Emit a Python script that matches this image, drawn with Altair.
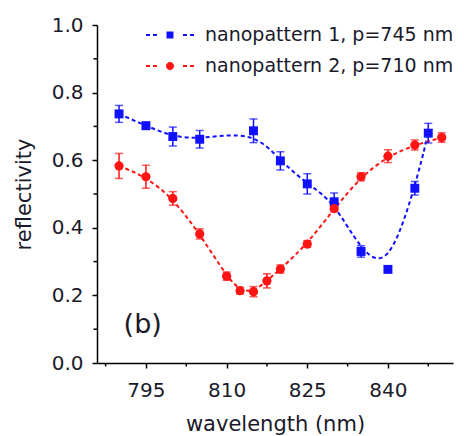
import altair as alt
import pandas as pd

S1 = "nanopattern 1, p=745 nm"
S2 = "nanopattern 2, p=710 nm"
BLUE = "#1010ff"
RED = "#ff1414"
FONT = "DejaVu Sans"
INK = "#1a1a2a"

# series 1 (blue squares)
wl1 = [790, 795, 800, 805, 815, 820, 825, 830, 835, 840, 845, 847.5]
r1 = [0.737, 0.702, 0.670, 0.662, 0.687, 0.598, 0.530, 0.477, 0.330, 0.277, 0.517, 0.680]
e1 = [0.025, 0.010, 0.028, 0.026, 0.035, 0.027, 0.030, 0.026, 0.017, 0.008, 0.020, 0.029]

# series 2 (red circles)
wl2 = [790, 795, 800, 805, 810, 812.5, 815, 817.5, 820, 825, 830, 835, 840, 845, 850]
r2 = [0.583, 0.551, 0.487, 0.382, 0.257, 0.214, 0.211, 0.243, 0.278, 0.352, 0.457, 0.551, 0.612, 0.645, 0.667]
e2 = [0.037, 0.034, 0.020, 0.015, 0.012, 0.010, 0.015, 0.021, 0.012, 0.010, 0.010, 0.012, 0.019, 0.015, 0.014]

x_major = [795, 810, 825, 840]
x_minor = [787.5, 802.5, 817.5, 832.5, 847.5]
y_major = [0.0, 0.2, 0.4, 0.6, 0.8, 1.0]
y_minor = [0.1, 0.3, 0.5, 0.7, 0.9]

df = pd.concat([
    pd.DataFrame({"series": S1, "wl": wl1, "r": r1, "e": e1}),
    pd.DataFrame({"series": S2, "wl": wl2, "r": r2, "e": e2}),
], ignore_index=True)
df["lo"] = df["r"] - df["e"]
df["hi"] = df["r"] + df["e"]

xs = alt.Scale(domain=[785.9, 852.1], nice=False, zero=False)
ys = alt.Scale(domain=[0, 1], nice=False)
x_axis = alt.Axis(values=x_major, title="wavelength (nm)", labelPadding=12, titlePadding=13)
y_axis = alt.Axis(values=y_major, format=".1f", title="reflectivity", labelPadding=9, titlePadding=17)

X = alt.X("wl:Q", scale=xs, axis=x_axis)
Y = alt.Y("r:Q", scale=ys, axis=y_axis)
cscale = alt.Scale(domain=[S1, S2], range=[BLUE, RED])
col = alt.Color("series:N", scale=cscale, legend=None)

base = alt.Chart(df)

lines = base.mark_line(strokeDash=[4, 3], strokeWidth=2, interpolate="basis").encode(X, Y, col)
errs = base.mark_rule(strokeWidth=1.5).encode(X, alt.Y("lo:Q", scale=ys, axis=y_axis), y2="hi:Q", color=col)
cap_lo = base.mark_tick(orient="horizontal", size=8, thickness=1.5).encode(X, alt.Y("lo:Q", scale=ys, axis=y_axis), color=col)
cap_hi = base.mark_tick(orient="horizontal", size=8, thickness=1.5).encode(X, alt.Y("hi:Q", scale=ys, axis=y_axis), color=col)
pts_sq = base.transform_filter(alt.datum.series == S1).mark_point(
    shape="square", filled=True, size=80, opacity=1).encode(X, Y, col)
pts_ci = base.transform_filter(alt.datum.series == S2).mark_point(
    shape="circle", filled=True, size=85, opacity=1).encode(X, Y, col)

dashes = ("M-1.6,-0.067H-1.333V0.067H-1.6Z"
          "M-1.133,-0.067H-0.867V0.067H-1.133Z"
          "M0.867,-0.067H1.133V0.067H0.867Z"
          "M1.333,-0.067H1.6V0.067H1.333Z")
PATH_SQ = dashes + "M-0.233,-0.233H0.233V0.233H-0.233Z"
PATH_CI = dashes + "M0.267,0A0.267,0.267,0,1,1,-0.267,0A0.267,0.267,0,1,1,0.267,0Z"

leg = alt.Legend(title="", orient="none", legendX=58, legendY=-5, symbolSize=900,
                 labelOffset=20, rowPadding=6, padding=0, labelFontSize=19,
                 labelFont=FONT, labelColor=INK, labelLimit=400, symbolStrokeWidth=0,
                 symbolOpacity=1)
legend_layer = base.mark_point(filled=True, opacity=0).encode(
    X, Y,
    color=alt.Color("series:N", scale=cscale, legend=leg),
    shape=alt.Shape("series:N", scale=alt.Scale(domain=[S1, S2], range=[PATH_SQ, PATH_CI]), legend=leg),
)

minor_x = alt.Chart(pd.DataFrame({"wl": x_minor})).mark_rule(color="black", strokeWidth=1.5).encode(
    X, y=alt.value(338), y2=alt.value(341.5))
minor_y = alt.Chart(pd.DataFrame({"r": y_minor})).mark_rule(color="black", strokeWidth=1.5).encode(
    Y, x=alt.value(-3.5), x2=alt.value(0))

label_b = alt.Chart(pd.DataFrame({"wl": [794.4], "r": [0.112], "t": ["(b)"]})).mark_text(
    fontSize=27, font=FONT, color=INK).encode(X, Y, text="t:N")

chart = alt.layer(
    lines, errs, cap_lo, cap_hi, pts_sq, pts_ci, legend_layer, minor_x, minor_y, label_b
).resolve_scale(color="independent", shape="independent").properties(
    width=356, height=338, autosize="none",
    padding={"left": 97, "top": 25, "right": 11, "bottom": 73},
).configure_view(stroke=None).configure_axis(
    grid=False, domainColor="black", domainWidth=1.5, tickColor="black", tickWidth=1.5,
    tickSize=5, labelFont=FONT, labelFontSize=20, labelColor=INK,
    titleFont=FONT, titleFontSize=21, titleFontWeight="normal", titleColor=INK,
)

chart.save("out.html", embed_options={"renderer": "svg", "actions": False})
